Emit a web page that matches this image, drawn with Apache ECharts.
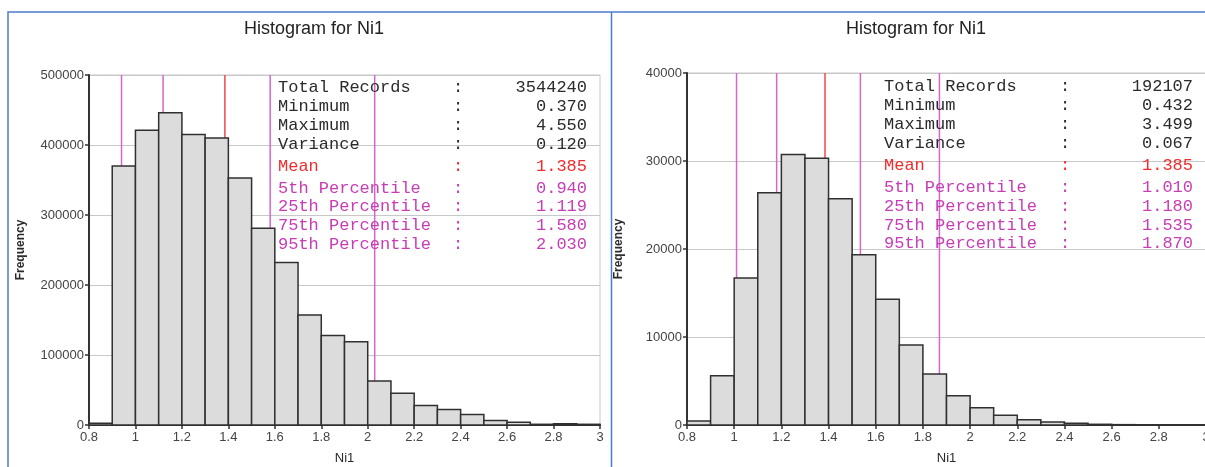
<!DOCTYPE html>
<html>
<head>
<meta charset="utf-8">
<script src="https://cdn.jsdelivr.net/npm/echarts@6/dist/echarts.min.js"></script>
<style>
  html, body { margin: 0; padding: 0; background: #fff; }
  #chart { width: 1205px; height: 467px; }
</style>
</head>
<body>
<div id="chart"></div>
<script>
// Ni1 grade histograms: bins of width 0.1 starting at each lower edge
const binStarts = [0.8, 0.9, 1.0, 1.1, 1.2, 1.3, 1.4, 1.5, 1.6, 1.7, 1.8, 1.9,
                   2.0, 2.1, 2.2, 2.3, 2.4, 2.5, 2.6, 2.7, 2.8, 2.9];
const binWidth = 0.1;

const leftCounts = [2500, 370000, 421000, 446000, 415000, 410000, 353000, 281000,
                    232000, 157000, 128000, 119000, 63000, 45500, 28000, 22000,
                    15000, 6500, 4000, 1000, 1800, 1000];
const rightCounts = [450, 5600, 16700, 26400, 30750, 30300, 25700, 19350,
                     14300, 9100, 5800, 3330, 1970, 1100, 600, 340,
                     190, 80, 40, 20, 10, 5];

const statLabels = ['Total Records', 'Minimum', 'Maximum', 'Variance', 'Mean',
                    '5th Percentile', '25th Percentile', '75th Percentile', '95th Percentile'];
const leftStatValues = ['3544240', '0.370', '4.550', '0.120', '1.385',
                        '0.940', '1.119', '1.580', '2.030'];
const rightStatValues = ['192107', '0.432', '3.499', '0.067', '1.385',
                         '1.010', '1.180', '1.535', '1.870'];

const xTickMin = 0.8, xTickMax = 3, xTickStep = 0.2;
const leftYMax = 500000, leftYStep = 100000;
const rightYMax = 40000, rightYStep = 10000;

const chartTitle = 'Histogram for Ni1';
const xName = 'Ni1';
const yName = 'Frequency';

// ---- styling ----
const INK = '#2b2b2b';
const MEAN_RED = '#f02c2c';
const PCT_MAGENTA = '#c73db5';
const MEAN_LINE = '#f04848';
const PCT_LINE = '#d466cc';
const GRID_GRAY = '#c8c8c8';
const FRAME_BLUE = '#4d7bcc';
const SANS = '"Liberation Sans", Arial, sans-serif';
const MONO = '"Liberation Mono", "Courier New", monospace';

function statColor(i) { return i < 4 ? INK : (i === 4 ? MEAN_RED : PCT_MAGENTA); }

function binData(counts) {
  return binStarts.map((s, i) => [s, +(s + binWidth).toFixed(2), counts[i]]);
}
function lineData(values) {
  // mean and percentile markers: indices 4..8 of the stat table
  return values.slice(4).map((v, k) => [parseFloat(v), k === 0 ? 1 : 0]);
}

function renderBar(params, api) {
  const p0 = api.coord([api.value(0), api.value(2)]);
  const p1 = api.coord([api.value(1), 0]);
  return {
    type: 'rect',
    shape: { x: p0[0], y: p0[1], width: p1[0] - p0[0], height: p1[1] - p0[1] },
    style: { fill: '#dcdcdc', stroke: '#303030', lineWidth: 1.5 }
  };
}
function renderMarker(params, api) {
  const bottom = api.coord([api.value(0), 0]);
  const top = params.coordSys.y;
  return {
    type: 'line',
    shape: { x1: bottom[0], y1: top, x2: bottom[0], y2: bottom[1] },
    style: { stroke: api.value(1) === 1 ? MEAN_LINE : PCT_LINE, lineWidth: 1.5 }
  };
}

function xAxisDef(gridIndex) {
  return {
    type: 'value', gridIndex, min: xTickMin, max: xTickMax, interval: xTickStep,
    name: xName, nameLocation: 'middle', nameGap: 27,
    nameTextStyle: { color: INK, fontSize: 13, fontFamily: SANS },
    axisLine: { show: true, onZero: false, lineStyle: { color: '#333', width: 2 } },
    axisTick: { show: true, length: 4, lineStyle: { color: '#333', width: 1.5 } },
    axisLabel: { color: '#444', fontSize: 13, fontFamily: SANS, margin: 6, showMaxLabel: true,
                 formatter: v => String(+v.toFixed(1)) },
    splitLine: { show: false }
  };
}
function yAxisDef(gridIndex, max, step) {
  return {
    type: 'value', gridIndex, min: 0, max, interval: step,
    name: yName, nameLocation: 'middle', nameGap: 62, nameRotate: 90,
    nameTextStyle: { color: INK, fontSize: 12, fontWeight: 'bold', fontFamily: SANS },
    axisLine: { show: true, lineStyle: { color: '#333', width: 2 } },
    axisTick: { show: true, length: 4, lineStyle: { color: '#333', width: 1.5 } },
    axisLabel: { color: '#444', fontSize: 13, fontFamily: SANS, margin: 5,
                 formatter: v => String(Math.round(v)) },
    splitLine: { show: true, lineStyle: { color: GRID_GRAY, width: 1 } }
  };
}

// stats table drawn as text in the upper right of each plot
function statText(labelX, colonX, valueX, rowsY, values) {
  const els = [];
  statLabels.forEach((lab, i) => {
    const fill = statColor(i);
    const base = { fill, font: '17px ' + MONO, verticalAlign: 'middle' };
    els.push({ type: 'text', x: labelX, y: rowsY[i], z: 50,
               style: Object.assign({ text: lab, align: 'left' }, base) });
    els.push({ type: 'text', x: colonX, y: rowsY[i], z: 50,
               style: Object.assign({ text: ':', align: 'center' }, base) });
    els.push({ type: 'text', x: valueX, y: rowsY[i], z: 50,
               style: Object.assign({ text: values[i], align: 'right' }, base) });
  });
  return els;
}

const leftRowsY = [87.5, 106, 125, 144, 166.5, 188, 206.5, 225.5, 244.5];
const rightRowsY = [86.5, 105, 124, 143, 165, 187, 206, 225, 243.5];

const chart = echarts.init(document.getElementById('chart'), null, { renderer: 'canvas' });
chart.setOption({
  backgroundColor: '#ffffff',
  animation: false,
  title: [
    { text: chartTitle, left: 309, top: 15, textAlign: 'center',
      textStyle: { fontSize: 18, fontWeight: 'normal', color: '#222', fontFamily: SANS } },
    { text: chartTitle, left: 911, top: 15, textAlign: 'center',
      textStyle: { fontSize: 18, fontWeight: 'normal', color: '#222', fontFamily: SANS } }
  ],
  grid: [
    { left: 89, top: 75, right: 605, height: 350, show: true, outerBoundsMode: 'none',
      borderColor: GRID_GRAY, borderWidth: 1, backgroundColor: 'transparent' },
    // the right-hand plot runs slightly past the page edge
    { left: 687, top: 73, right: -1, height: 352, show: true, outerBoundsMode: 'none',
      borderColor: GRID_GRAY, borderWidth: 1, backgroundColor: 'transparent' }
  ],
  xAxis: [xAxisDef(0), xAxisDef(1)],
  yAxis: [yAxisDef(0, leftYMax, leftYStep), yAxisDef(1, rightYMax, rightYStep)],
  series: [
    { type: 'custom', xAxisIndex: 0, yAxisIndex: 0, z: 1, renderItem: renderMarker,
      data: lineData(leftStatValues), encode: { x: 0 } },
    { type: 'custom', xAxisIndex: 0, yAxisIndex: 0, z: 2, renderItem: renderBar,
      data: binData(leftCounts), encode: { x: [0, 1], y: 2 } },
    { type: 'custom', xAxisIndex: 1, yAxisIndex: 1, z: 1, renderItem: renderMarker,
      data: lineData(rightStatValues), encode: { x: 0 } },
    { type: 'custom', xAxisIndex: 1, yAxisIndex: 1, z: 2, renderItem: renderBar,
      data: binData(rightCounts), encode: { x: [0, 1], y: 2 } }
  ],
  graphic: [
    { type: 'rect', z: 0, shape: { x: 8, y: 12, width: 1300, height: 500 },
      style: { fill: 'none', stroke: FRAME_BLUE, lineWidth: 1.5 } },
    { type: 'line', z: 0, shape: { x1: 611.5, y1: 12, x2: 611.5, y2: 467 },
      style: { stroke: FRAME_BLUE, lineWidth: 1.5 } }
  ].concat(statText(278, 458, 587, leftRowsY, leftStatValues))
   .concat(statText(884, 1065, 1193, rightRowsY, rightStatValues))
});
</script>
</body>
</html>
